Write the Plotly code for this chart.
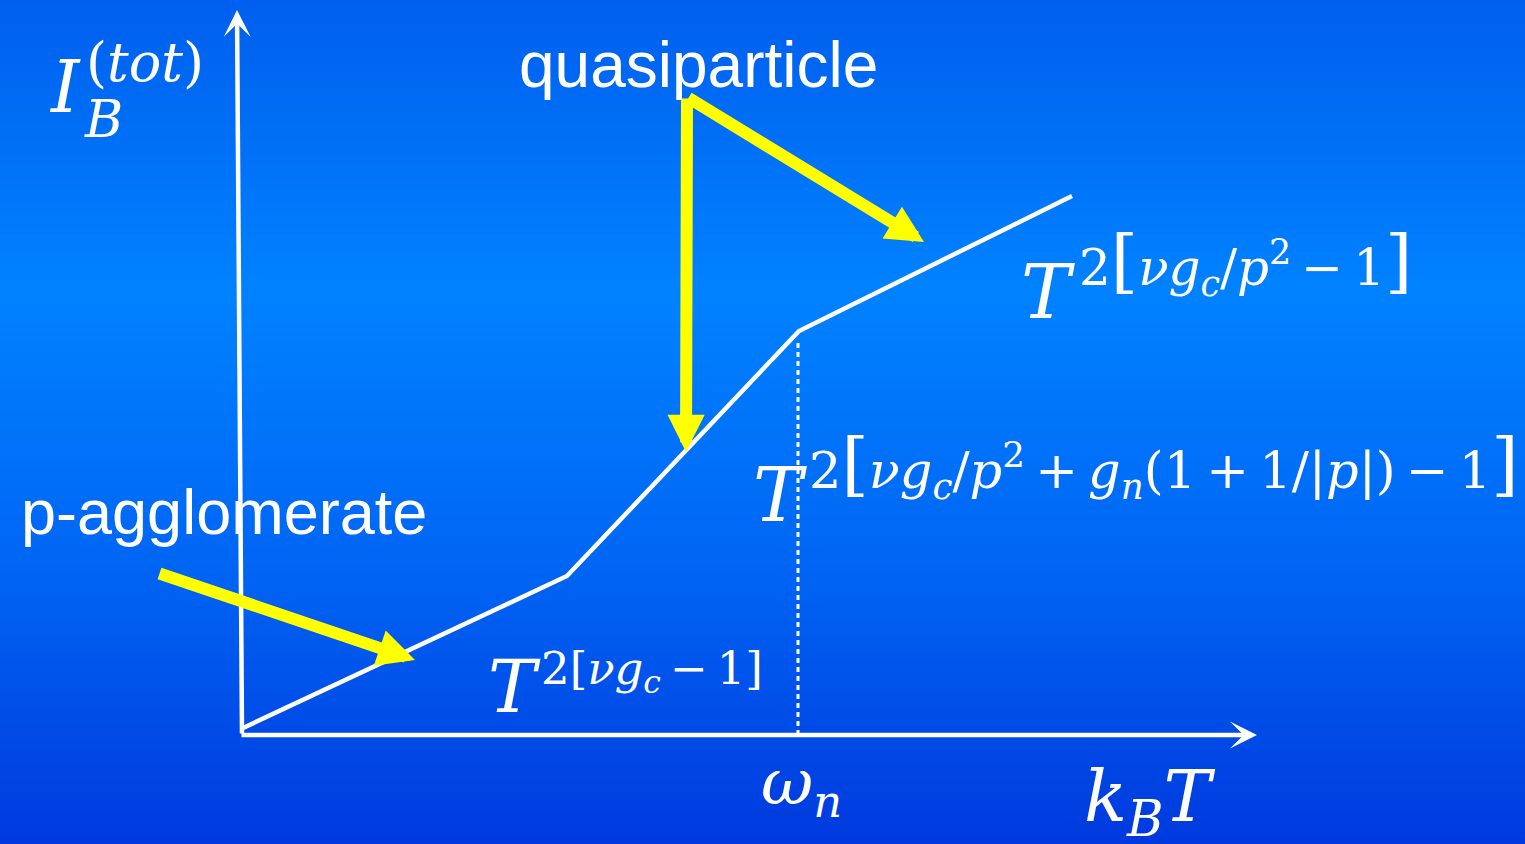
import plotly.graph_objects as go

# Schematic intensity curve: three power-law regimes joined at two crossovers
kT = [0.03, 3.27, 5.59, 8.32]
intensity = [0.07, 1.59, 4.04, 5.39]

# Crossover energy omega_n (dotted marker)
omega_n = 5.58
omega_n_level = 3.92

# Axis extents of the sketch
x_axis_end = 10.17
y_axis_end = 7.25

# Pointer arrows: (tail_x, tail_y, tip_x, tip_y)
pointer_arrows = [
    (4.47, 6.38, 4.46, 2.83),
    (4.47, 6.38, 6.84, 4.93),
    (-0.82, 1.62, 1.75, 0.75),
]

# Background gradient stops (vertical position, colour)
grad_y = [-1.30, 1.75, 4.45, 7.50]
grad_colors = ["#0036dc", "#0066f4", "#0082ff", "#005ded"]

X_RANGE = [-2.40, 12.85]
Y_RANGE = [-1.09, 7.35]

fig = go.Figure()

lo, hi = min(grad_y), max(grad_y)
fig.add_trace(go.Heatmap(
    x=[X_RANGE[0] - 1, X_RANGE[1] + 1],
    y=grad_y,
    z=[[v, v] for v in grad_y],
    colorscale=[[(v - lo) / (hi - lo), c] for v, c in zip(grad_y, grad_colors)],
    zsmooth="best", showscale=False, hoverinfo="skip",
))

fig.add_trace(go.Scatter(
    x=kT, y=intensity, mode="lines",
    line=dict(color="white", width=4.5), hoverinfo="skip",
))

fig.add_trace(go.Scatter(
    x=[omega_n, omega_n], y=[0, omega_n_level], mode="lines",
    line=dict(color="white", width=3, dash="5px,4px"), hoverinfo="skip",
))

annotations = []

# Axes drawn as white arrows
for hx, hy, tx, ty in [(x_axis_end, 0, 0, 0), (-0.03, y_axis_end, 0.02, 0)]:
    annotations.append(dict(
        x=hx, y=hy, ax=tx, ay=ty, xref="x", yref="y", axref="x", ayref="y",
        text="", showarrow=True, arrowhead=3, arrowwidth=4.5, arrowsize=1.0,
        arrowcolor="white", standoff=0,
    ))

for tx, ty, hx, hy in pointer_arrows:
    annotations.append(dict(
        x=hx, y=hy, ax=tx, ay=ty, xref="x", yref="y", axref="x", ayref="y",
        text="", showarrow=True, arrowhead=2, arrowwidth=12, arrowsize=0.62,
        arrowcolor="#ffff00", standoff=0,
    ))

MATH = "DejaVu Serif"
SANS = "Liberation Sans"
TS = "\u2009"  # thin space around binary operators


def label(x, y, text, size, family=MATH, yanchor="bottom"):
    annotations.append(dict(
        x=x, y=y, xref="x", yref="y", text=text, showarrow=False,
        xanchor="left", yanchor=yanchor,
        font=dict(family=family, size=size, color="white"),
        borderpad=0,
    ))


def big(ch, size):
    return f'<span style="font-size:{size}px">{ch}</span>'


label(2.78, 6.33, "quasiparticle", 64, SANS)
label(-2.20, 1.87, "p-agglomerate", 63, SANS)

# Y-axis label I_B^(tot)
label(-1.92, 6.05, "<i>I</i>", 72)
label(-1.55, 6.40, "(<i>tot</i>)", 54)
label(-1.57, 5.85, "<i>B</i>", 52)

# X-axis labels
label(5.20, -0.94, "<i>ω</i><sub><i>n</i></sub>", 64)
label(8.43, -0.19, "<i>k</i><sub><i>B</i></sub><i>T</i>", 71, yanchor="top")

# Regime power laws
label(7.80, 3.99, "<i>T</i>", 74)
label(8.38, 4.30,
      f"2{big('[', 70)}<i>νg</i><sub><i>c</i></sub>/<i>p</i><sup>2</sup>{TS}−{TS}1{big(']', 70)}", 50)

label(5.12, 1.96, "<i>T</i>", 74)
label(5.68, 2.27,
      f"2{big('[', 70)}<i>νg</i><sub><i>c</i></sub>/<i>p</i><sup>2</sup>{TS}+{TS}<i>g</i><sub><i>n</i></sub>"
      f"(1{TS}+{TS}1/|<i>p</i>|){TS}−{TS}1{big(']', 70)}", 51)

label(2.47, 0.05, "<i>T</i>", 72)
label(3.00, 0.34, f"2[<i>νg</i><sub><i>c</i></sub>{TS}−{TS}1]", 45)

fig.update_layout(
    width=1525, height=844,
    margin=dict(l=0, r=0, t=0, b=0),
    paper_bgcolor="#0060f0", plot_bgcolor="#0060f0",
    showlegend=False,
    xaxis=dict(range=X_RANGE, visible=False, fixedrange=True),
    yaxis=dict(range=Y_RANGE, visible=False, fixedrange=True),
    annotations=annotations,
)

fig.write_html("out.html", config={"displayModeBar": False})
